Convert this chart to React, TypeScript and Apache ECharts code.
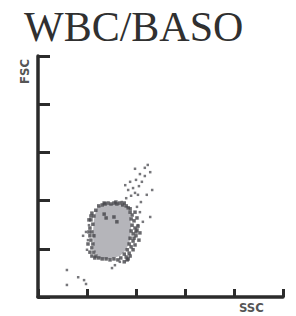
import React, { useEffect, useRef } from "react";
import * as echarts from "echarts";

// Axis ticks (axis units)
const xTicks = [0, 1, 2, 3, 4, 5];
const yTicks = [0, 1, 2, 3, 4, 5];

// Outline of the dense light-gray core of the cluster [SSC, FSC]
const corePolygon: number[][] = [
  [1.22, 1.87], [1.43, 1.93], [1.67, 1.93], [1.82, 1.87], [1.88, 1.70],
  [1.90, 1.43], [1.88, 1.18], [1.80, 0.98], [1.67, 0.85], [1.47, 0.79],
  [1.24, 0.81], [1.14, 0.98], [1.12, 1.29], [1.14, 1.60], [1.18, 1.78],
];

// Dark event dots at the edge of the cluster
const edgeDots: number[][] = [
  [1.24, 1.89], [1.31, 1.91], [1.37, 1.93], [1.43, 1.95], [1.49, 1.93], [1.55, 1.95],
  [1.61, 1.93], [1.67, 1.95], [1.73, 1.91], [1.80, 1.89], [1.84, 1.85],
  [1.88, 1.76], [1.92, 1.70], [1.90, 1.62], [1.96, 1.58], [1.92, 1.49], [1.98, 1.43],
  [1.90, 1.37], [1.94, 1.31], [2.00, 1.27], [1.88, 1.22], [1.94, 1.16], [1.86, 1.10],
  [1.90, 1.04], [1.82, 0.98], [1.86, 0.91], [1.76, 0.89], [1.80, 0.83], [1.69, 0.81],
  [1.63, 0.77], [1.55, 0.79], [1.47, 0.77], [1.39, 0.79], [1.31, 0.79], [1.24, 0.81],
  [1.18, 0.85], [1.14, 0.93], [1.10, 1.02], [1.12, 1.10], [1.08, 1.18], [1.14, 1.27],
  [1.10, 1.35], [1.06, 1.43], [1.12, 1.51], [1.08, 1.60], [1.14, 1.68], [1.10, 1.74],
  [1.18, 1.80], [1.35, 1.72], [1.39, 1.64], [1.55, 1.66], [1.61, 1.56],
  [1.98, 1.76], [2.02, 1.64], [2.04, 1.47], [2.00, 1.35], [2.06, 1.18], [1.98, 1.08],
  [1.94, 0.98], [1.88, 0.85], [1.82, 0.77], [1.76, 0.73], [2.02, 1.39], [1.96, 1.22],
  [2.08, 1.33], [1.84, 0.79], [1.04, 1.35], [1.06, 1.27], [1.02, 1.10], [1.06, 0.93],
  [1.10, 0.85], [1.16, 0.81], [1.04, 1.60], [1.08, 1.68], [1.35, 1.95], [1.59, 1.97],
  [1.76, 1.95], [1.88, 1.83],
];

// Sparse events spreading up and to the right, plus stray ones
const sparseDots: number[][] = [
  [1.71, 1.97], [1.80, 2.05], [1.90, 2.10], [1.98, 2.16], [2.04, 2.12], [1.84, 2.22],
  [1.94, 2.26], [2.06, 2.30], [1.78, 2.32], [1.88, 2.39], [2.00, 2.43], [2.12, 2.39],
  [2.18, 2.51], [2.08, 2.55], [1.98, 2.66], [2.18, 2.68], [2.24, 2.74], [2.29, 2.59],
  [2.33, 2.22], [2.22, 2.12], [2.10, 1.97], [2.29, 1.66], [2.02, 1.87], [2.08, 1.76],
  [2.14, 1.56], [2.04, 1.49], [0.98, 1.35], [0.92, 1.27], [1.02, 1.18], [1.04, 1.49],
  [1.00, 0.98], [1.57, 0.66], [1.51, 0.60], [1.67, 0.73],
  [0.59, 0.56], [0.59, 0.25], [0.82, 0.41], [0.94, 0.35], [0.98, 0.27],
];

export default function App() {
  const ref = useRef<HTMLDivElement>(null);
  useEffect(() => {
    if (!ref.current) return;
    const chart = echarts.init(ref.current, undefined, { renderer: "svg" });
    const axisColor = "#2b2b2b";
    chart.setOption({
      animation: false,
      backgroundColor: "#ffffff",
      title: {
        text: "WBC/BASO",
        left: 19,
        top: 1,
        textStyle: {
          fontFamily: "Liberation Serif, Times New Roman, serif",
          fontSize: 42,
          fontWeight: "normal",
          color: "#303030",
        },
      },
      grid: { left: 38, right: 13, top: 56, bottom: 19 },
      xAxis: {
        type: "value",
        min: xTicks[0],
        max: xTicks[xTicks.length - 1],
        interval: 1,
        axisLine: { show: true, lineStyle: { color: axisColor, width: 3.5 } },
        axisTick: { show: true, inside: true, length: 8, lineStyle: { color: axisColor, width: 3 } },
        axisLabel: { show: false },
        splitLine: { show: false },
      },
      yAxis: {
        type: "value",
        min: yTicks[0],
        max: yTicks[yTicks.length - 1],
        interval: 1,
        axisLine: { show: true, lineStyle: { color: axisColor, width: 3.5 } },
        axisTick: { show: true, inside: true, length: 12, lineStyle: { color: axisColor, width: 3 } },
        axisLabel: { show: false },
        splitLine: { show: false },
      },
      graphic: [
        {
          type: "text",
          x: 18,
          y: 84,
          rotation: Math.PI / 2,
          style: {
            text: "FSC",
            font: "bold 13px 'DejaVu Sans Condensed', 'DejaVu Sans', sans-serif",
            fill: "#555",
          },
        },
        {
          type: "text",
          x: 239,
          y: 301,
          style: {
            text: "SSC",
            font: "bold 13px 'DejaVu Sans Condensed', 'DejaVu Sans', sans-serif",
            fill: "#555",
          },
        },
      ],
      series: [
        {
          type: "custom",
          data: corePolygon,
          renderItem: (params: any, api: any) => {
            if (params.dataIndex !== 0) return null;
            const pts = corePolygon.map((p) => api.coord(p));
            return {
              type: "polygon",
              shape: { points: pts },
              style: { fill: "#b5b5ba" },
            };
          },
          z: 1,
        },
        {
          type: "scatter",
          data: edgeDots,
          symbol: "rect",
          symbolSize: 3.5,
          itemStyle: { color: "#444448" },
          z: 2,
        },
        {
          type: "scatter",
          data: sparseDots,
          symbol: "rect",
          symbolSize: 2.5,
          itemStyle: { color: "#55555a" },
          z: 2,
        },
      ],
    });
    return () => chart.dispose();
  }, []);
  return (
    <div
      ref={ref}
      style={{ position: "fixed", left: 0, top: 0, width: 296, height: 316 }}
    />
  );
}
